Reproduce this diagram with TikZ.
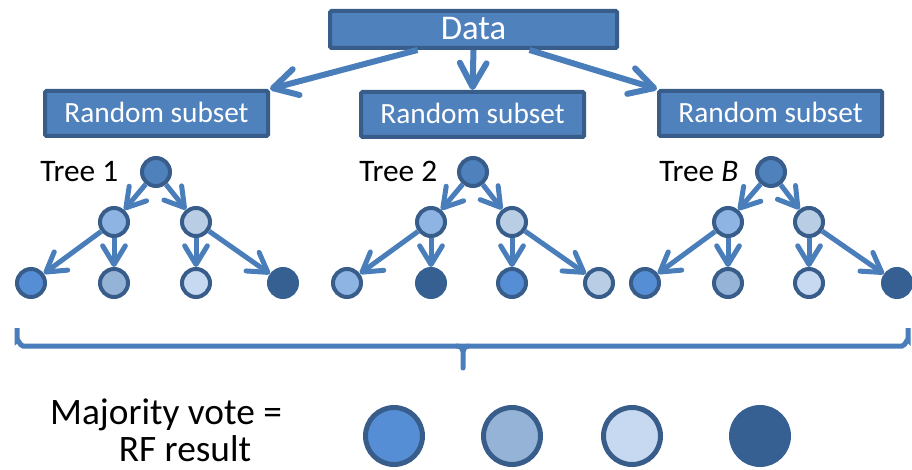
\documentclass[tikz,border=0pt]{standalone}
\usepackage{fontspec}
\setmainfont{Carlito}
\usetikzlibrary{arrows.meta,calc}

\definecolor{boxfill}{HTML}{4F81BD}
\definecolor{edgeblue}{HTML}{385D8A}
\definecolor{linkblue}{HTML}{4A7EBB}
\definecolor{deepblue}{HTML}{376092}
\definecolor{midblue}{HTML}{558ED5}
\definecolor{greyblue}{HTML}{95B3D7}
\definecolor{paleblue}{HTML}{C6D9F1}
\definecolor{skyblue}{HTML}{8EB4E3}
\definecolor{mistblue}{HTML}{B9CDE5}

\tikzset{
  databox/.style={draw=edgeblue, fill=boxfill, line width=3pt, rounded corners=1pt,
    inner sep=0pt, minimum width=215.25pt, minimum height=27.75pt, text=white,
    font=\fontsize{26}{31}\selectfont, text height=15.75pt, text depth=0pt},
  subsetbox/.style={draw=edgeblue, fill=boxfill, line width=3pt, rounded corners=1pt,
    inner sep=0pt, minimum width=167.25pt, minimum height=33.75pt, text=white,
    font=\fontsize{22}{26}\selectfont, text height=14.25pt, text depth=0pt},
  treenode/.style={circle, draw=edgeblue, line width=3pt, minimum size=21pt, inner sep=0pt},
  darkleaf/.style={treenode, draw=deepblue, fill=deepblue},
  votenode/.style={circle, draw=edgeblue, line width=3.75pt, minimum size=42.75pt, inner sep=0pt},
  flow/.style={draw=linkblue, line width=4.5pt, -{Straight Barb[length=18pt,width=20pt,round]}},
  branch/.style={draw=linkblue, line width=3.75pt, -{Straight Barb[length=14pt,width=17pt,round]}},
  treetitle/.style={anchor=base west, inner sep=0pt, font=\fontsize{23.5}{28}\selectfont},
  votetext/.style={anchor=base, inner sep=0pt, text depth=0pt, font=\fontsize{28}{33}\selectfont},
  brace/.style={draw=linkblue, line width=3.75pt}
}

\begin{document}
\begin{tikzpicture}[x=0.75pt, y=-0.75pt]
\useasboundingbox (0,0) rectangle (912,470);

% data source and the three bootstrap subsets
\node[databox] (data) at (473.5,29.5) {Data};
\node[subsetbox] (rs1) at (156.5,113.5) {Random subset};
\node[subsetbox] (rs2) at (472.5,114.5) {Random subset};
\node[subsetbox] (rs3) at (770.5,113.5) {Random subset};

\coordinate (d1) at ($(data.south)+(-42pt,0)$);
\coordinate (d2) at (data.south);
\coordinate (d3) at ($(data.south)+(42pt,0)$);
\draw[flow] (d1) -- (rs1.north east);
\draw[flow] (d2) -- (rs2.north);
\draw[flow] (d3) -- (rs3.north west);

% tree 1
\node[treetitle] (t1) at (40,182) {Tree 1};
\node[treenode, fill=boxfill] (a0) at (156,172) {};
\node[treenode, fill=skyblue] (a1) at (114,222) {};
\node[treenode, fill=mistblue] (a2) at (196,222) {};
\node[treenode, fill=midblue] (a3) at (31,283) {};
\node[treenode, fill=greyblue] (a4) at (114,283) {};
\node[treenode, fill=paleblue] (a5) at (196,283) {};
\node[darkleaf] (a6) at (283,283) {};
\draw[branch] (a0) -- (a1);
\draw[branch] (a0) -- (a2);
\draw[branch] (a1) -- (a3);
\draw[branch] (a1) -- (a4);
\draw[branch] (a2) -- (a5);
\draw[branch] (a2) -- (a6);

% tree 2
\node[treetitle] (t2) at (359,182) {Tree 2};
\node[treenode, fill=boxfill] (b0) at (473,172) {};
\node[treenode, fill=skyblue] (b1) at (431,222) {};
\node[treenode, fill=mistblue] (b2) at (512,222) {};
\node[treenode, fill=skyblue] (b3) at (347,283) {};
\node[darkleaf] (b4) at (431,283) {};
\node[treenode, fill=midblue] (b5) at (512,283) {};
\node[treenode, fill=mistblue] (b6) at (599,283) {};
\draw[branch] (b0) -- (b1);
\draw[branch] (b0) -- (b2);
\draw[branch] (b1) -- (b3);
\draw[branch] (b1) -- (b4);
\draw[branch] (b2) -- (b5);
\draw[branch] (b2) -- (b6);

% tree B
\node[treetitle] (tb) at (659,182) {Tree \textit{B}};
\node[treenode, fill=boxfill] (c0) at (771,172) {};
\node[treenode, fill=skyblue] (c1) at (728,222) {};
\node[treenode, fill=mistblue] (c2) at (809,222) {};
\node[treenode, fill=midblue] (c3) at (645,283) {};
\node[treenode, fill=greyblue] (c4) at (728,283) {};
\node[treenode, fill=paleblue] (c5) at (809,283) {};
\node[darkleaf] (c6) at (897,283) {};
\draw[branch] (c0) -- (c1);
\draw[branch] (c0) -- (c2);
\draw[branch] (c1) -- (c3);
\draw[branch] (c1) -- (c4);
\draw[branch] (c2) -- (c5);
\draw[branch] (c2) -- (c6);

% brace gathering all trees
\draw[brace] (17,328) -- (17,340) to[out=90,in=180] (23,346) -- (902,346)
  to[out=0,in=90] (908,340) -- (908,328);
\draw[brace, line cap=round] (457,346) to[out=0,in=90] (463,352) -- (463,368);
\draw[brace] (469,346) to[out=180,in=90] (463,352);

% aggregated vote
\node[votetext] (mv) at (166,424) {Majority vote =};
\node[votetext] (rf) at (185,461) {RF result};
\node[votenode, fill=midblue] (v1) at (394,436) {};
\node[votenode, fill=greyblue] (v2) at (512,436) {};
\node[votenode, fill=paleblue] (v3) at (632,436) {};
\node[votenode, draw=deepblue, fill=deepblue] (v4) at (760,436) {};
\end{tikzpicture}
\end{document}
